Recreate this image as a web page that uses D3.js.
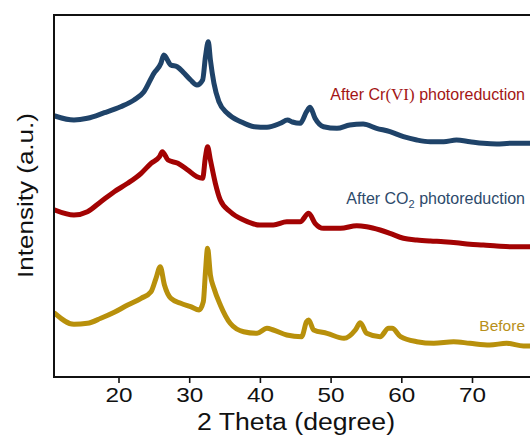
<!DOCTYPE html>
<html>
<head>
<meta charset="utf-8">
<script src="https://cdn.jsdelivr.net/npm/d3@7/dist/d3.min.js"></script>
<style>
  html, body { margin: 0; padding: 0; background: #fff; }
  svg { display: block; }
</style>
</head>
<body>
<svg id="chart" width="530" height="440"></svg>
<script>
// ---- Data (2θ in degrees, intensity in a.u.) ----
const thetaCr = [11, 13.7, 15.6, 18, 20.3, 22.2, 23.6, 25, 26, 26.4, 27.4, 28.3, 29.3, 30.2, 31.1, 31.9, 32.3, 32.7, 33.0, 33.5, 34.2, 35.4, 37.3, 39.2, 41.0, 42.9, 43.9, 44.6, 45.7, 46.6, 47.1, 47.8, 49, 50.9, 52.7, 54.6, 56.5, 58.4, 60.3, 62.2, 64.1, 66, 67.8, 69.7, 71.6, 73.5, 75.4, 77.3, 80];
const intensityCr = [2610, 2570, 2587, 2643, 2703, 2770, 2853, 3037, 3137, 3220, 3120, 3103, 3037, 2970, 2920, 2970, 3203, 3353, 3170, 2937, 2753, 2637, 2553, 2503, 2497, 2537, 2570, 2550, 2537, 2653, 2697, 2587, 2503, 2487, 2520, 2530, 2487, 2453, 2403, 2370, 2353, 2353, 2370, 2353, 2337, 2330, 2337, 2337, 2340];

const thetaCO2 = [11, 13.7, 15.6, 17.5, 19.4, 21.3, 23.2, 24.6, 25.8, 26.2, 27, 28.4, 29.8, 31.1, 31.9, 32.3, 32.6, 33.0, 33.7, 34.4, 35.8, 37.7, 40, 41.9, 43.8, 45.7, 46.9, 47.8, 49, 51.4, 53.7, 55.1, 57, 58.4, 60.3, 62.2, 64.1, 66, 67.8, 69.7, 71.6, 73.5, 75.4, 77.3, 80];
const intensityCO2 = [1670, 1620, 1653, 1753, 1853, 1937, 2037, 2137, 2203, 2253, 2170, 2137, 2070, 2003, 1987, 2203, 2303, 2170, 1937, 1770, 1653, 1570, 1520, 1520, 1553, 1553, 1637, 1537, 1487, 1487, 1513, 1503, 1470, 1437, 1387, 1370, 1360, 1353, 1343, 1327, 1320, 1310, 1303, 1303, 1300];

const thetaBefore = [11, 13.7, 15.6, 17.5, 19.4, 21.3, 23.2, 24.6, 25.3, 25.9, 26.5, 27.4, 28.8, 30.2, 31.4, 32.0, 32.3, 32.6, 33.0, 33.5, 34.4, 35.8, 37.7, 39.6, 41, 41.9, 43.8, 45.9, 46.6, 46.9, 47.6, 49.5, 51.9, 53.5, 54.2, 55.1, 57, 58.2, 58.7, 59.9, 62.2, 64.6, 67.4, 69.7, 72.5, 74.9, 77.3, 80];
const intensityBefore = [637, 527, 537, 587, 647, 720, 787, 853, 987, 1103, 920, 787, 737, 703, 670, 753, 1053, 1287, 1020, 887, 720, 537, 453, 437, 487, 470, 420, 403, 553, 570, 470, 437, 387, 470, 543, 437, 403, 487, 487, 403, 353, 337, 353, 337, 320, 337, 310, 310];

const xTicks = [20, 30, 40, 50, 60, 70];
const seriesNames = ["After Cr(VI) photoreduction", "After CO2 photoreduction", "Before"];

// ---- Layout ----
const svg = d3.select("#chart");
const mLeft = 54, mTop = 15, mBottom = 377, mRight = 560;

const x = d3.scaleLinear().domain([10, 80]).range([47.8, 542.7]);
const y = d3.scaleLinear().domain([0, 3620]).range([mBottom, mTop]);

svg.append("defs").append("clipPath").attr("id", "plotclip")
  .append("rect").attr("x", mLeft + 1).attr("y", mTop).attr("width", mRight - mLeft).attr("height", mBottom - mTop);

const line = d3.line().x(d => x(d[0])).y(d => y(d[1])).curve(d3.curveMonotoneX);

const series = [
  { t: thetaBefore, v: intensityBefore, color: "#b8900b" },
  { t: thetaCO2, v: intensityCO2, color: "#a30303" },
  { t: thetaCr, v: intensityCr, color: "#1f4369" }
];

const g = svg.append("g").attr("clip-path", "url(#plotclip)");
series.forEach(s => {
  g.append("path")
    .datum(s.t.map((t, i) => [t, s.v[i]]))
    .attr("d", line)
    .attr("fill", "none")
    .attr("stroke", s.color)
    .attr("stroke-width", 5)
    .attr("stroke-linejoin", "round")
    .attr("stroke-linecap", "round");
});

// ---- Axes / frame ----
const xAxis = d3.axisBottom(x).tickValues(xTicks).tickSize(6).tickSizeOuter(0).tickPadding(4).tickFormat(d3.format("d"));
const ax = svg.append("g").attr("transform", `translate(0,${mBottom})`).call(xAxis);
ax.select(".domain").remove();
ax.selectAll(".tick line").attr("stroke", "#111").attr("stroke-width", 1.6);
ax.selectAll(".tick text")
  .attr("fill", "#111")
  .attr("font-family", "Liberation Sans, Arial, sans-serif")
  .attr("font-size", 21)
  .attr("textLength", 27)
  .attr("lengthAdjust", "spacingAndGlyphs");

svg.append("path")
  .attr("d", `M${mRight},${mTop}H${mLeft}V${mBottom}H${mRight}`)
  .attr("fill", "none")
  .attr("stroke", "#111")
  .attr("stroke-width", 2);

// ---- Axis titles ----
svg.append("text")
  .attr("x", 296).attr("y", 430)
  .attr("text-anchor", "middle")
  .attr("font-family", "Liberation Sans, Arial, sans-serif")
  .attr("font-size", 23)
  .attr("fill", "#111")
  .attr("textLength", 198)
  .attr("lengthAdjust", "spacingAndGlyphs")
  .text("2 Theta (degree)");

svg.append("text")
  .attr("transform", "translate(32.5,195.5) rotate(-90)")
  .attr("text-anchor", "middle")
  .attr("font-family", "Liberation Sans, Arial, sans-serif")
  .attr("font-size", 22)
  .attr("fill", "#111")
  .attr("textLength", 165)
  .attr("lengthAdjust", "spacingAndGlyphs")
  .text("Intensity (a.u.)");

// ---- Series labels ----
const lab1 = svg.append("text")
  .attr("x", 525).attr("y", 99.5)
  .attr("text-anchor", "end")
  .attr("font-family", "Liberation Sans, Arial, sans-serif")
  .attr("font-size", 16)
  .attr("fill", "#a31515");
lab1.append("tspan").text("After Cr");
lab1.append("tspan").attr("font-family", "Liberation Serif, Times New Roman, serif").attr("font-size", 17).text("(VI)");
lab1.append("tspan").text(" photoreduction");

const lab2 = svg.append("text")
  .attr("x", 525).attr("y", 203.5)
  .attr("text-anchor", "end")
  .attr("font-family", "Liberation Sans, Arial, sans-serif")
  .attr("font-size", 16)
  .attr("fill", "#2d4a6b");
lab2.append("tspan").text("After CO");
lab2.append("tspan").attr("font-size", 11).attr("dy", 4).text("2");
lab2.append("tspan").attr("dy", -4).text(" photoreduction");

svg.append("text")
  .attr("x", 525).attr("y", 330.5)
  .attr("text-anchor", "end")
  .attr("font-family", "Liberation Sans, Arial, sans-serif")
  .attr("font-size", 15.5)
  .attr("fill", "#b8901a")
  .text(seriesNames[2]);
</script>
</body>
</html>
